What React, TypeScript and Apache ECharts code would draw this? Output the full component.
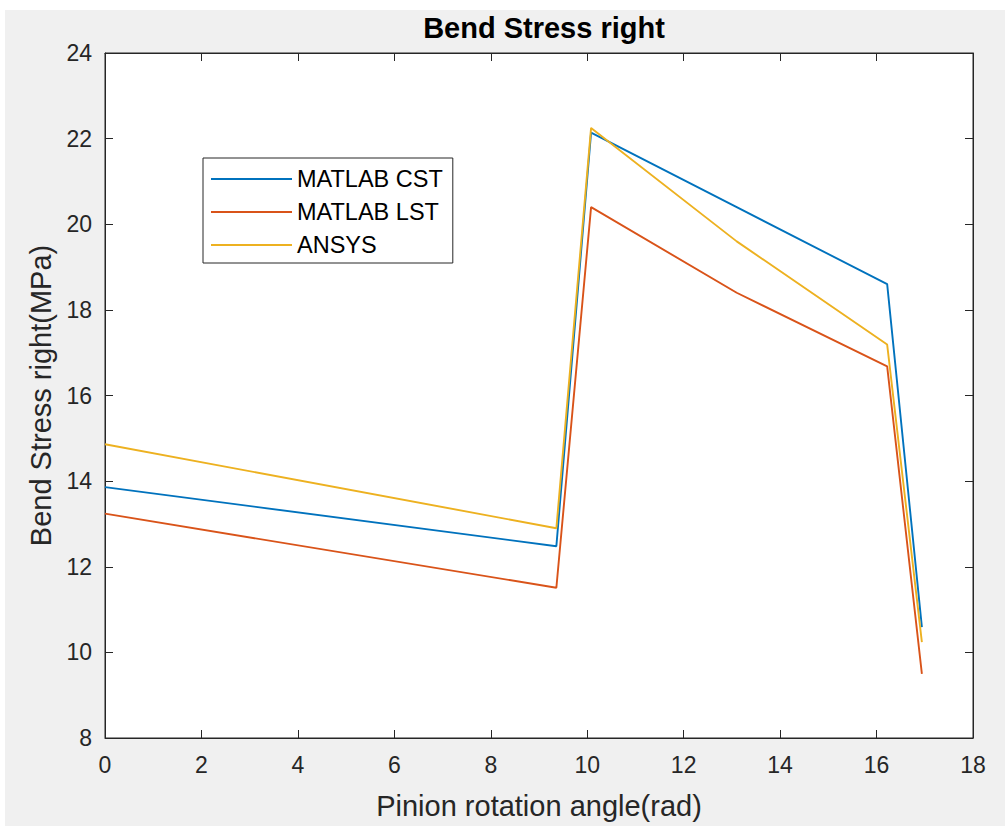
import React, { useEffect, useRef } from "react";
import * as echarts from "echarts";

const angles = [0, 9.36, 10.08, 13.1, 16.22, 16.94];
const matlabCst = [13.86, 12.48, 22.14, 20.4, 18.6, 10.59];
const matlabLst = [13.24, 11.51, 20.4, 18.4, 16.68, 9.5];
const ansys = [14.86, 12.9, 22.25, 19.6, 17.19, 10.24];
const seriesNames = ["MATLAB CST", "MATLAB LST", "ANSYS"];
const seriesColors = ["#0072BD", "#D95319", "#EDB120"];
const xTickMax = 18;
const yTickMin = 8;
const yTickMax = 24;

const FONT = "'Liberation Sans', Arial, sans-serif";
const AX = "#262626";

export default function App() {
  const ref = useRef<HTMLDivElement>(null);
  useEffect(() => {
    document.body.style.margin = "0";
    const chart = echarts.init(ref.current!, undefined, { renderer: "svg" });
    const seriesData = [matlabCst, matlabLst, ansys];
    const axisCommon = {
      axisLine: { show: true, onZero: false, lineStyle: { color: AX, width: 1 } },
      axisTick: { show: true, inside: true, length: 8, lineStyle: { color: AX } },
      splitLine: { show: false },
    };
    chart.setOption({
      animation: false,
      backgroundColor: "#fff",
      textStyle: { fontFamily: FONT },
      graphic: [
        {
          type: "rect",
          z: -10,
          silent: true,
          shape: { x: 5, y: 10, width: 1000, height: 816 },
          style: { fill: "#f0f0f0" },
        },
      ],
      title: {
        text: "Bend Stress right",
        left: 539,
        textAlign: "center",
        top: 8,
        textStyle: { fontFamily: FONT, fontSize: 29, fontWeight: "bold", color: "#000" },
      },
      legend: {
        data: seriesNames.map((name) => ({ name, icon: "rect" })),
        orient: "vertical",
        left: 203,
        top: 158,
        padding: [9, 10, 6, 8],
        itemGap: 9,
        itemWidth: 81,
        itemHeight: 2,
        backgroundColor: "#fff",
        borderColor: "#262626",
        borderWidth: 1,
        borderRadius: 0,
        textStyle: { fontFamily: FONT, fontSize: 23.5, color: "#000", lineHeight: 24 },
      },
      grid: {
        left: 105,
        top: 53,
        right: 32,
        bottom: 88,
        show: true,
        backgroundColor: "#fff",
        borderColor: AX,
        borderWidth: 1,
      },
      xAxis: [
        {
          type: "value",
          min: 0,
          max: xTickMax,
          interval: 2,
          name: "Pinion rotation angle(rad)",
          nameLocation: "middle",
          nameGap: 53,
          nameTextStyle: { fontFamily: FONT, fontSize: 29, color: AX },
          axisLabel: { fontFamily: FONT, fontSize: 23, color: AX, margin: 15 },
          ...axisCommon,
        },
        {
          type: "value",
          position: "top",
          min: 0,
          max: xTickMax,
          interval: 2,
          axisLabel: { show: false },
          ...axisCommon,
        },
      ],
      yAxis: [
        {
          type: "value",
          min: yTickMin,
          max: yTickMax,
          interval: 2,
          name: "Bend Stress right(MPa)",
          nameLocation: "middle",
          nameGap: 50,
          nameTextStyle: { fontFamily: FONT, fontSize: 29, color: AX },
          axisLabel: { fontFamily: FONT, fontSize: 23, color: AX, margin: 13 },
          ...axisCommon,
        },
        {
          type: "value",
          position: "right",
          min: yTickMin,
          max: yTickMax,
          interval: 2,
          axisLabel: { show: false },
          ...axisCommon,
        },
      ],
      series: seriesNames.map((name, i) => ({
        name,
        type: "line",
        xAxisIndex: 0,
        yAxisIndex: 0,
        symbol: "none",
        color: seriesColors[i],
        lineStyle: { width: 1.9, color: seriesColors[i] },
        data: angles.map((a, j) => [a, seriesData[i][j]]),
      })),
    });
    return () => chart.dispose();
  }, []);
  return <div ref={ref} style={{ width: 1005, height: 826 }} />;
}
